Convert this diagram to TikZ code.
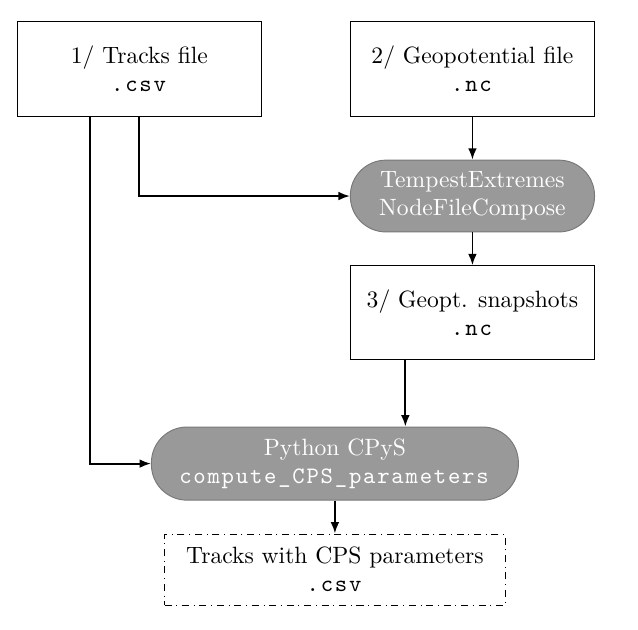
\documentclass[tikz,border=0pt]{standalone}
\usepackage{fontspec}
\setmonofont{Latin Modern Mono}[LetterSpace=7.5]
\usepackage{tikz}
\usetikzlibrary{arrows.meta,positioning}
\definecolor{pill_gray}{RGB}{153,153,153}
\definecolor{pill_edge}{RGB}{120,120,120}

\begin{document}
\begin{tikzpicture}[
      filebox/.style={
         rectangle,
         draw=black,
         align=center,
         minimum width=3.65cm,
         minimum height=1.42cm},
      toolpill/.style={
         rectangle,
         rounded corners=0.53cm,
         draw=pill_edge,
         fill=pill_gray,
         text=white,
         align=center,
         minimum width=3.64cm,
         minimum height=1.07cm},
      outbox/.style={
         rectangle,
         draw=black,
         dash dot,
         align=center,
         minimum width=5.08cm,
         minimum height=1.06cm},
      myarrow/.style={
        -{Latex[length=1.7mm,width=1.3mm]},
        thick},
      ]
      \useasboundingbox (0,0) rectangle (9.51,-9.38);
      % inputs
      \node[filebox] (tracks) at (2.078,-1.023) {1/ Tracks file\\\texttt{.csv}};
      \node[filebox,right=1.30cm of tracks] (geopot) {2/ Geopotential file\\\texttt{.nc}};

      \node[toolpill,below=0.64cm of geopot] (nfc) {TempestExtremes\\NodeFileCompose};
      \node[filebox,below=0.49cm of nfc,minimum height=1.39cm] (snaps) {3/ Geopt. snapshots\\\texttt{.nc}};

      \node[toolpill,below=1.0cm of snaps,xshift=-2.05cm,minimum width=5.47cm,minimum height=1.09cm] (cpys) {Python CPyS\\\texttt{compute\_CPS\_parameters}};
      % output
      \node[outbox,below=0.49cm of cpys] (out) {Tracks with CPS parameters\\\texttt{.csv}};

      \draw[myarrow] (geopot) -- (nfc);
      \draw[myarrow] (nfc) -- (snaps);
      \draw[myarrow] (tracks.south) |- (nfc.west);
      \draw[myarrow] ([xshift=-0.74cm]tracks.south) |- (cpys.west);
      \draw[myarrow] ([xshift=-1.0cm]snaps.south) -- ([xshift=-1.0cm]snaps.south |- cpys.north);
      \draw[myarrow] (cpys) -- (out);
    \end{tikzpicture}
\end{document}
